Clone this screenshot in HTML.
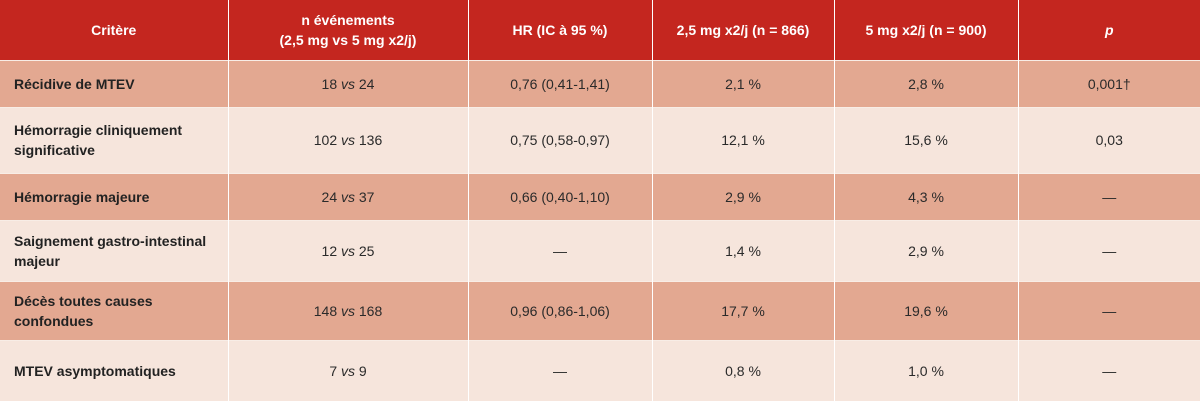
<!DOCTYPE html>
<html><head><meta charset="utf-8"><style>
*{margin:0;padding:0;box-sizing:border-box}
body{width:1200px;height:401px;overflow:hidden;background:#fff;font-family:"Liberation Sans",sans-serif;font-size:14px;color:#2a2a2a}
table{border-collapse:collapse;width:1200px;table-layout:fixed}
td,th{border-left:1px solid #fff;border-right:1px solid #fff;border-top:1px solid #f8ede6;text-align:center;vertical-align:middle;line-height:20px}
th{background:#c4261f;color:#fff;font-weight:bold;font-size:14px;border-top:none}
td:first-child,th:first-child{border-left:none}
td:last-child,th:last-child{border-right:none}
td:first-child{text-align:left;padding-left:14px;font-weight:bold;color:#222}
tr.d td{background:#e3a891}
tr.l td{background:#f6e5dc}
i{font-style:italic}
</style></head><body>
<table>
<colgroup><col style="width:228px"><col style="width:240px"><col style="width:184px"><col style="width:182px"><col style="width:184px"><col style="width:182px"></colgroup>
<tr style="height:60px"><th>Critère</th><th>n événements<br>(2,5 mg vs 5 mg x2/j)</th><th>HR (IC à 95 %)</th><th>2,5 mg x2/j (n = 866)</th><th>5 mg x2/j (n = 900)</th><th><i>p</i></th></tr>
<tr class="d" style="height:47px"><td>Récidive de MTEV</td><td>18 <i>vs</i> 24</td><td>0,76 (0,41-1,41)</td><td>2,1 %</td><td>2,8 %</td><td>0,001†</td></tr>
<tr class="l" style="height:66px"><td>Hémorragie cliniquement<br>significative</td><td>102 <i>vs</i> 136</td><td>0,75 (0,58-0,97)</td><td>12,1 %</td><td>15,6 %</td><td>0,03</td></tr>
<tr class="d" style="height:47px"><td>Hémorragie majeure</td><td>24 <i>vs</i> 37</td><td>0,66 (0,40-1,10)</td><td>2,9 %</td><td>4,3 %</td><td>—</td></tr>
<tr class="l" style="height:61px"><td>Saignement gastro-intestinal<br>majeur</td><td>12 <i>vs</i> 25</td><td>—</td><td>1,4 %</td><td>2,9 %</td><td>—</td></tr>
<tr class="d" style="height:59px"><td>Décès toutes causes<br>confondues</td><td>148 <i>vs</i> 168</td><td>0,96 (0,86-1,06)</td><td>17,7 %</td><td>19,6 %</td><td>—</td></tr>
<tr class="l" style="height:61px"><td>MTEV asymptomatiques</td><td>7 <i>vs</i> 9</td><td>—</td><td>0,8 %</td><td>1,0 %</td><td>—</td></tr>
</table>
</body></html>
